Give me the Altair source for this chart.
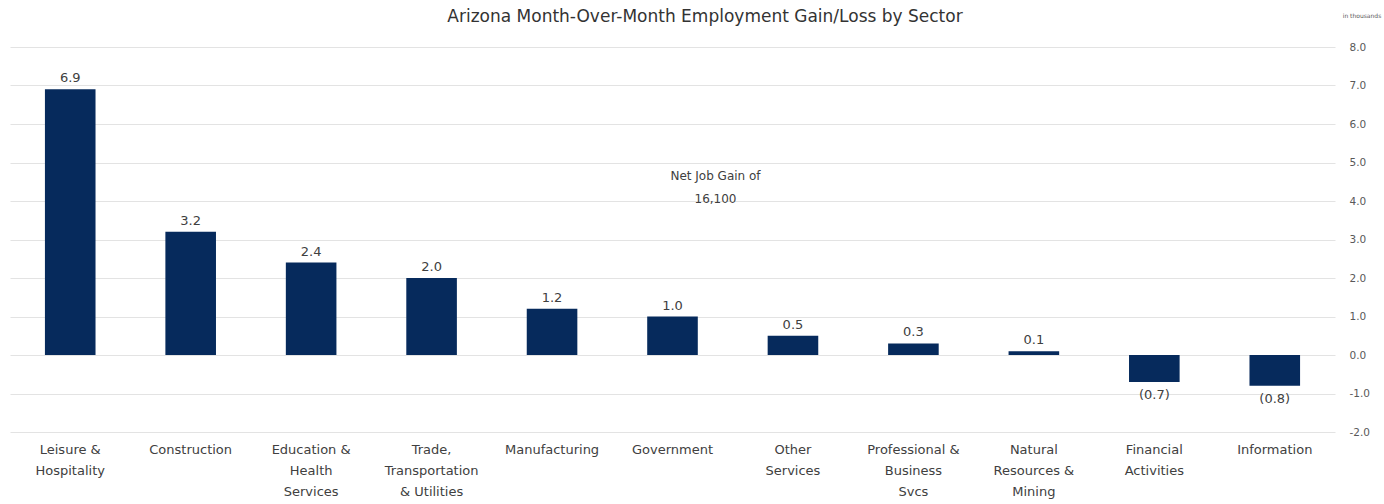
import altair as alt
import pandas as pd

sectors = [
    "Leisure &\nHospitality", "Construction", "Education &\nHealth\nServices",
    "Trade,\nTransportation\n& Utilities", "Manufacturing", "Government",
    "Other\nServices", "Professional &\nBusiness\nSvcs", "Natural\nResources &\nMining",
    "Financial\nActivities", "Information",
]
values = [6.9, 3.2, 2.4, 2.0, 1.2, 1.0, 0.5, 0.3, 0.1, -0.7, -0.8]
y_ticks = [-2.0, -1.0, 0.0, 1.0, 2.0, 3.0, 4.0, 5.0, 6.0, 7.0, 8.0]

df = pd.DataFrame({"sector": sectors, "value": values})
note = pd.DataFrame({"sector": ["Government"], "y": [4.65], "txt": [["Net Job Gain of", "16,100"]]})

FONT = "DejaVu Sans"
BAR = "#062a5c"
TXT = "#404040"

x_enc = alt.X("sector:N", sort=sectors, title=None,
              scale=alt.Scale(paddingInner=0.58, paddingOuter=0.29),
              axis=alt.Axis(labelAngle=0, labelExpr="split(datum.label, '\\n')",
                            labelFont=FONT, labelFontSize=13, labelColor=TXT,
                            labelLineHeight=21, labelPadding=11, labelBaseline="top",
                            ticks=False, domain=False, grid=False, labelLimit=200))

y_scale = alt.Scale(domain=[-2, 8], nice=False)

base = alt.Chart(df)

bars = base.mark_bar(color=BAR).encode(
    x=x_enc,
    y=alt.Y("value:Q", scale=y_scale, title=None,
            axis=alt.Axis(orient="right", values=y_ticks,
                          labelExpr="replace(format(datum.value, '.1f'), '\u2212', '-')",
                          labelFont=FONT, labelFontSize=10.5, labelColor="#595959",
                          labelPadding=14, ticks=False, domain=False,
                          labelOverlap=False, tickCount=11,
                          gridColor="#e3e3e3", gridWidth=1)),
)

pos_labels = base.transform_filter("datum.value >= 0").transform_calculate(
    lbl="format(datum.value, '.1f')"
).mark_text(font=FONT, fontSize=13, color=TXT, baseline="bottom", dy=-4).encode(
    x=alt.X("sector:N", sort=sectors), y=alt.Y("value:Q", scale=y_scale), text="lbl:N"
)

neg_labels = base.transform_filter("datum.value < 0").transform_calculate(
    lbl="'(' + format(-datum.value, '.1f') + ')'"
).mark_text(font=FONT, fontSize=13, color=TXT, baseline="top", dy=7).encode(
    x=alt.X("sector:N", sort=sectors), y=alt.Y("value:Q", scale=y_scale), text="lbl:N"
)

note_text = alt.Chart(note).mark_text(
    font=FONT, fontSize=12, color=TXT, dx=43, lineHeight=23, baseline="middle"
).encode(x=alt.X("sector:N", sort=sectors), y=alt.Y("y:Q", scale=y_scale), text="txt")

unit_text = alt.Chart(pd.DataFrame({"t": ["in thousands"]})).mark_text(
    font=FONT, fontSize=6, color="#595959", align="center", baseline="middle"
).encode(x=alt.value(1352), y=alt.value(-31), text="t:N")

title_text = alt.Chart(pd.DataFrame({"t": ["Arizona Month-Over-Month  Employment Gain/Loss by Sector"]})).mark_text(
    font=FONT, fontSize=17, color="#333333", align="center", baseline="middle"
).encode(x=alt.value(695), y=alt.value(-30), text="t:N")

chart = alt.layer(bars, pos_labels, neg_labels, note_text, unit_text, title_text).properties(
    width=1325, height=385,
    background="white",
    autosize=alt.AutoSizeParams(type="none"),
    padding={"left": 10, "top": 47, "right": 49, "bottom": 72},
).configure_view(strokeWidth=0, stroke="transparent")

chart.save("out.html", embed_options={"renderer": "svg", "actions": False})
